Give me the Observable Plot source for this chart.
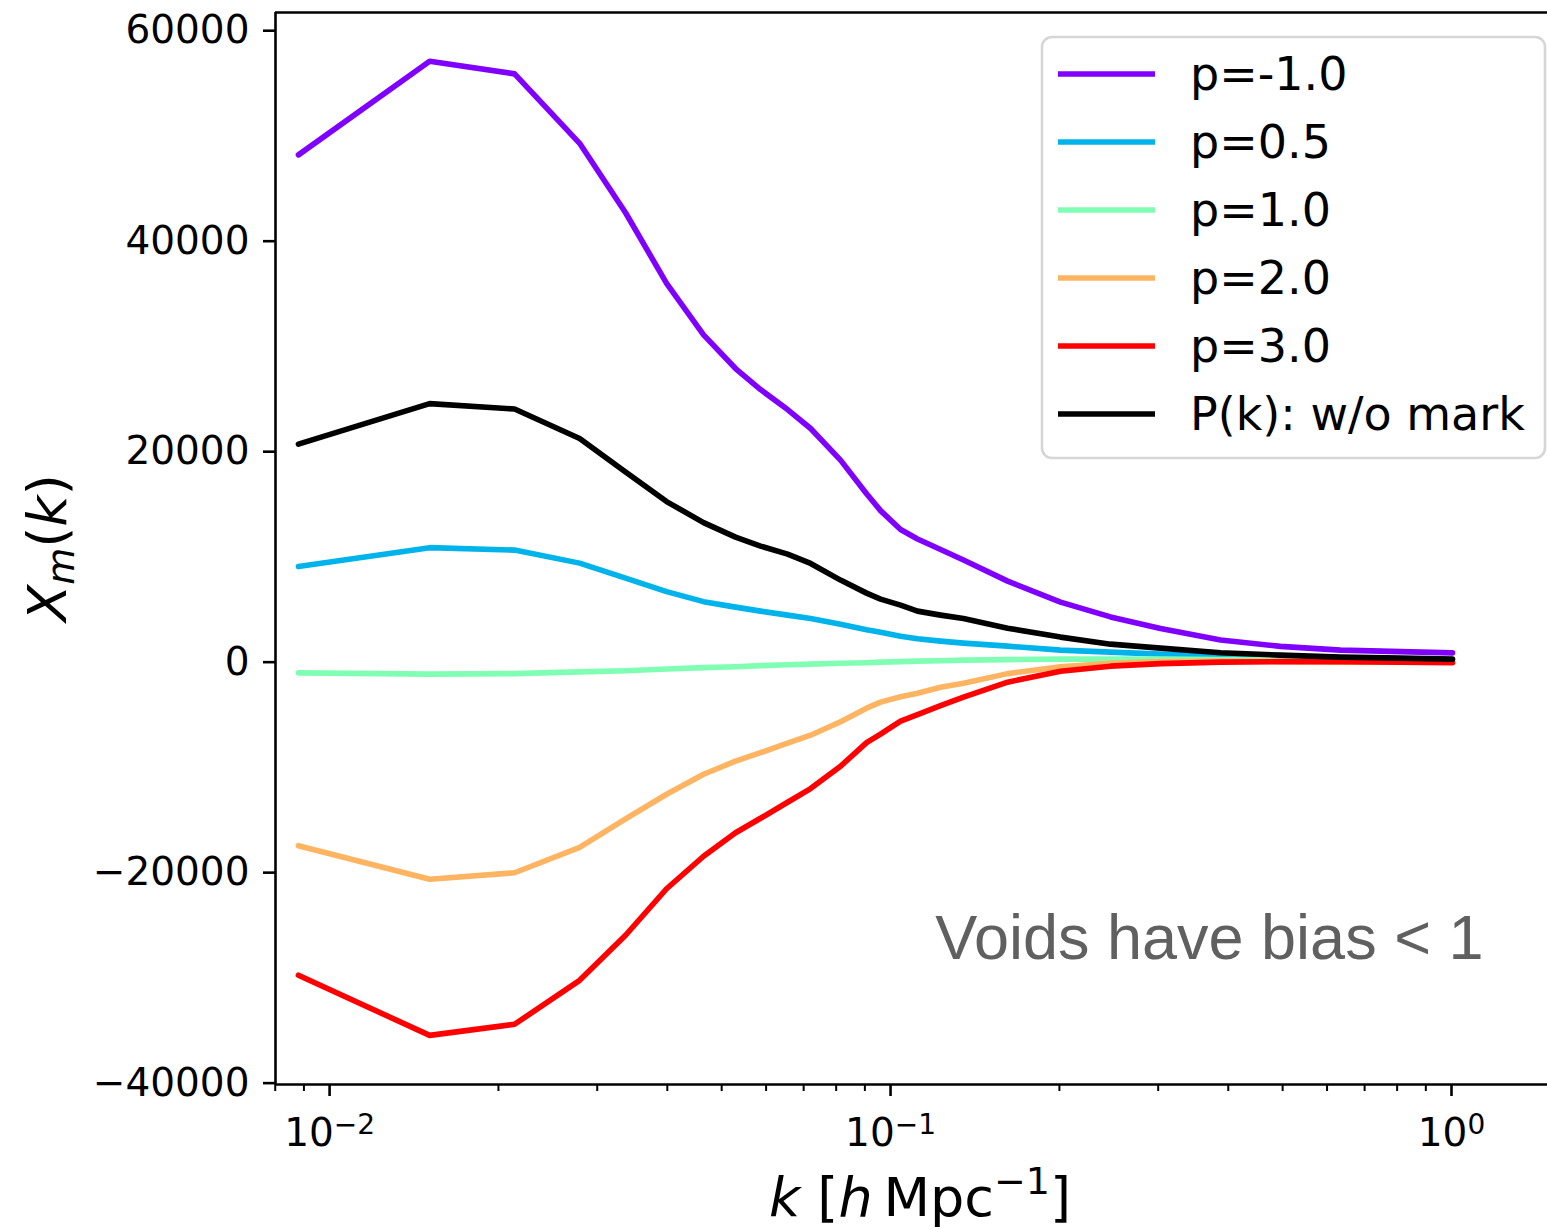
<!DOCTYPE html>
<html>
<head>
<meta charset="utf-8">
<script src="https://cdn.jsdelivr.net/npm/d3@7"></script>
<script src="https://cdn.jsdelivr.net/npm/@observablehq/plot@0.6"></script>
<style>
  html, body { margin: 0; padding: 0; background: #fff; overflow: hidden; }
  #chart { position: relative; width: 1547px; height: 1229px; }
</style>
</head>
<body>
<div id="chart"></div>
<script>
// ---------------- data ----------------
const k = [0.00880, 0.01508, 0.02137, 0.02791, 0.03370, 0.03988, 0.04642, 0.05293, 0.05865,
  0.06553, 0.07203, 0.08144, 0.09063, 0.09598, 0.1042, 0.1117, 0.1228, 0.1349, 0.1617,
  0.2009, 0.2467, 0.3029, 0.3876, 0.4956, 0.6341, 0.8111, 1.004];

const pMinus1 = [48200, 57100, 55900, 49300, 42700, 36000, 31100, 27900, 25900, 24000, 22200,
  19200, 16000, 14400, 12600, 11700, 10700, 9700, 7700, 5700, 4300, 3200, 2100, 1500, 1140, 1000, 880];
const pHalf = [9080, 10880, 10650, 9410, 7990, 6700, 5750, 5230, 4850, 4470, 4150, 3610, 3090,
  2850, 2470, 2230, 2000, 1810, 1520, 1140, 950, 760, 570, 430, 330, 290, 240];
const pOne = [-1020, -1140, -1090, -920, -810, -650, -520, -440, -330, -240, -190, -100, -50,
  0, 50, 100, 130, 190, 240, 290, 290, 290, 260, 240, 220, 210, 190];
const pTwo = [-17440, -20630, -20010, -17590, -14880, -12550, -10650, -9410, -8600, -7700, -6940,
  -5660, -4370, -3800, -3280, -2950, -2380, -2000, -1090, -430, -100, 50, 100, 50, 0, 0, 0];
const pThree = [-29750, -35460, -34410, -30230, -25950, -21530, -18440, -16210, -14830, -13310,
  -12010, -9890, -7650, -6840, -5610, -4990, -4140, -3330, -1900, -860, -380, -140, 0, 50, 50, 0, -50];
const pkNoMark = [20720, 24570, 24050, 21250, 18060, 15260, 13260, 11880, 11030, 10270, 9380,
  7800, 6560, 5990, 5420, 4850, 4470, 4140, 3230, 2380, 1710, 1330, 900, 670, 480, 380, 290];

const seriesNames = ["p=-1.0", "p=0.5", "p=1.0", "p=2.0", "p=3.0", "P(k): w/o mark"];
const seriesColors = ["#8000ff", "#00b4eb", "#80ffb4", "#ffb462", "#ff0000", "#000000"];

const yTicks = [-40000, -20000, 0, 20000, 40000, 60000];
const xMajorTicks = [0.01, 0.1, 1];
const xMinorTicks = [0.008, 0.009, 0.02, 0.03, 0.04, 0.05, 0.06, 0.07, 0.08, 0.09,
  0.2, 0.3, 0.4, 0.5, 0.6, 0.7, 0.8, 0.9];
const caption = "Voids have bias < 1";

// ---------------- layout ----------------
const W = 1547, H = 1229;
const mL = 275, mR = 0, mT = 12, mB = 145;
const xDomain = [0.008009, 1.483];
const yDomain = [-40130, 61730];
const LW = 5.6;    // curve width
const AW = 2.6;    // spine / tick width

const series = [pMinus1, pHalf, pOne, pTwo, pThree, pkNoMark];
const rows = series.map((vals, s) => k.map((kk, i) => ({k: kk, v: vals[i], s: seriesNames[s]})));

const fmtY = d => d < 0 ? "\u2212" + Math.abs(d) : String(d);
const fmtX = d => "10^" + Math.round(Math.log10(d));

const plot = Plot.plot({
  width: W, height: H,
  marginLeft: mL, marginRight: mR, marginTop: mT, marginBottom: mB,
  style: {fontFamily: "DejaVu Sans", fontSize: "39px", color: "#000", background: "#fff", overflow: "visible"},
  x: {type: "log", domain: xDomain},
  y: {domain: yDomain},
  marks: [
    Plot.axisY(yTicks, {tickSize: 12, tickPadding: 14, tickFormat: fmtY, strokeWidth: AW, label: null, fontSize: 39}),
    Plot.axisX(xMinorTicks, {tickSize: 7, tickFormat: () => "", strokeWidth: 2, label: null}),
    Plot.axisX(xMajorTicks, {tickSize: 12, tickPadding: 22, tickFormat: fmtX, strokeWidth: AW, label: null, fontSize: 39}),
    ...rows.map((r, s) => Plot.line(r, {x: "k", y: "v", stroke: seriesColors[s], strokeWidth: LW, strokeLinejoin: "round"})),
    Plot.ruleX([xDomain[0]], {strokeWidth: AW}),
    Plot.ruleY([yDomain[0], yDomain[1]], {strokeWidth: AW}),
    Plot.text([caption], {frameAnchor: "bottom-right", dx: -64, dy: -126, textAnchor: "end", lineAnchor: "bottom",
      fill: "#606060", fontSize: 63, fontFamily: "Liberation Sans, Arial, sans-serif"})
  ]
});

document.getElementById("chart").appendChild(plot);
const svg = d3.select(plot);

// ---------------- x tick labels as 10 with a raised exponent ----------------
svg.selectAll("text").each(function() {
  const t = d3.select(this);
  if (t.selectAll("tspan").size() > 0) return;
  const s = t.text();
  const m = /^10\^(-?\d+)$/.exec(s);
  if (!m) return;
  t.text("10");
  t.append("tspan").attr("dy", "-0.42em").style("font-size", "28px")
    .text(m[1].replace("-", "\u2212"));
});

// ---------------- axis labels with math styling ----------------
const yl = svg.append("text")
  .attr("transform", "translate(66,548) rotate(-90)")
  .attr("text-anchor", "middle")
  .style("font-family", "DejaVu Sans").style("font-size", "54px").attr("fill", "#000");
yl.append("tspan").style("font-style", "italic").text("X");
yl.append("tspan").style("font-style", "italic").style("font-size", "38px").attr("dy", 8).text("m");
yl.append("tspan").attr("dy", -8).text("(");
yl.append("tspan").style("font-style", "italic").text("k");
yl.append("tspan").text(")");

const xl = svg.append("text")
  .attr("x", 920).attr("y", 1216)
  .attr("text-anchor", "middle")
  .style("font-family", "DejaVu Sans").style("font-size", "54px").attr("fill", "#000");
xl.append("tspan").style("font-style", "italic").text("k");
xl.append("tspan").text(" [");
xl.append("tspan").style("font-style", "italic").text("h");
xl.append("tspan").text("\u2009Mpc");
xl.append("tspan").style("font-size", "38px").attr("dy", -22).text("\u22121");
xl.append("tspan").attr("dy", 22).text("]");

// ---------------- legend ----------------
const lg = svg.append("g");
lg.append("rect").attr("x", 1042).attr("y", 37).attr("width", 503).attr("height", 421)
  .attr("rx", 10).attr("fill", "#fff").attr("fill-opacity", 0.8)
  .attr("stroke", "#d6d6d6").attr("stroke-width", 2.6);
seriesNames.forEach((name, i) => {
  const yy = 74 + i * 68;
  lg.append("line").attr("x1", 1058).attr("x2", 1155).attr("y1", yy).attr("y2", yy)
    .attr("stroke", seriesColors[i]).attr("stroke-width", LW);
  lg.append("text").attr("x", 1190).attr("y", yy).attr("dy", "0.35em")
    .attr("text-anchor", "start")
    .style("font-family", "DejaVu Sans").style("font-size", "46px").attr("fill", "#000").text(name);
});
</script>
</body>
</html>
